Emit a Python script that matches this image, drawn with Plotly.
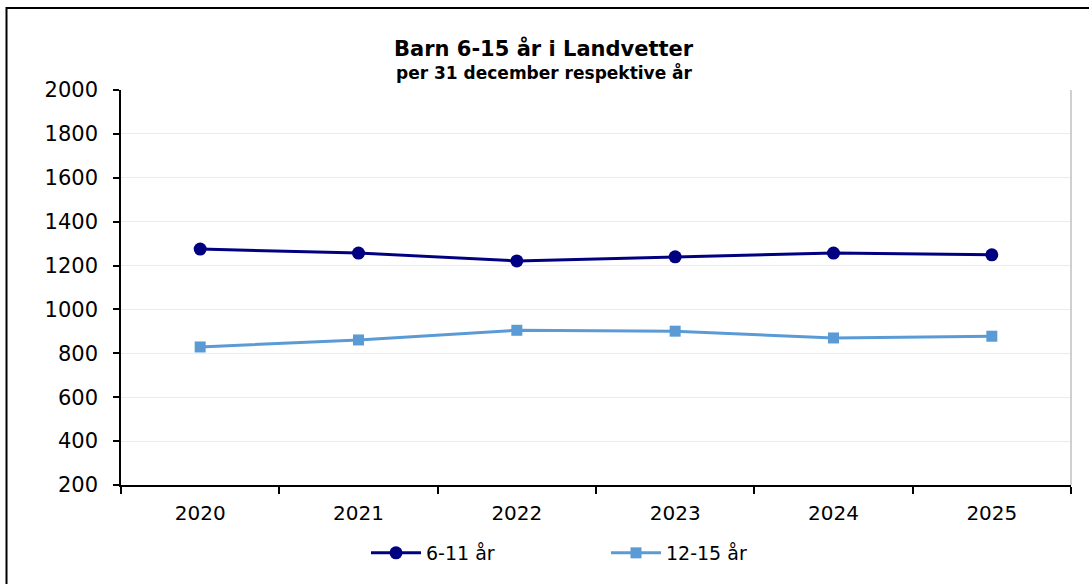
import plotly.graph_objects as go

years = ["2020", "2021", "2022", "2023", "2024", "2025"]
age_6_11 = [1275, 1257, 1221, 1240, 1257, 1249]
age_12_15 = [829, 861, 905, 901, 870, 878]
series_names = ["6-11 år", "12-15 år"]
title_text = "Barn 6-15 år i Landvetter"
subtitle_text = "per 31 december respektive år"

W, H = 1089, 584
ML, MR, MT, MB = 121, 18, 90, 99
pw = W - ML - MR
ph = H - MT - MB

def px_x(p):
    return (p - ML) / pw

def px_y(p):
    return (H - MB - p) / ph

FONT = "DejaVu Sans"

fig = go.Figure()
fig.add_trace(go.Scatter(
    x=years, y=age_6_11, name=series_names[0], mode="lines+markers",
    line=dict(color="#000080", width=3),
    marker=dict(symbol="circle", size=13, color="#000080"),
))
fig.add_trace(go.Scatter(
    x=years, y=age_12_15, name=series_names[1], mode="lines+markers",
    line=dict(color="#5B9BD5", width=3),
    marker=dict(symbol="square", size=11, color="#5B9BD5"),
))

fig.update_layout(
    width=W, height=H, autosize=False,
    margin=dict(l=ML, r=MR, t=MT, b=MB),
    paper_bgcolor="white", plot_bgcolor="white",
    font=dict(family=FONT, color="black", size=20),
    showlegend=True,
    legend=dict(orientation="h", x=px_x(366), y=px_y(553), xanchor="left", yanchor="middle",
                font=dict(family=FONT, size=19, color="black"),
                itemwidth=50,
                entrywidth=175, entrywidthmode="pixels", bgcolor="rgba(0,0,0,0)"),
    xaxis=dict(type="category", range=[-0.5, len(years) - 0.5], tickson="boundaries",
               ticks="outside", ticklen=7,
               tickcolor="black", tickwidth=1.5, showline=True, linecolor="black", linewidth=1.5,
               showgrid=False, tickfont=dict(family=FONT, size=20, color="black"),
               ticklabelstandoff=9, fixedrange=True),
    yaxis=dict(range=[200, 2000], dtick=200, tick0=200, ticks="outside", ticklen=6,
               tickcolor="black", tickwidth=1.5, showline=True, linecolor="black", linewidth=1.5,
               showgrid=True, gridcolor="#EBEBEB", gridwidth=1, zeroline=False,
               tickfont=dict(family=FONT, size=21, color="black"),
               ticklabelstandoff=11, fixedrange=True),
    annotations=[
        dict(text="<b>" + title_text + "</b>", xref="paper", yref="paper",
             x=px_x(544), y=px_y(49), xanchor="center", yanchor="middle", showarrow=False,
             font=dict(family=FONT, size=21, color="black")),
        dict(text="<b>" + subtitle_text + "</b>", xref="paper", yref="paper",
             x=px_x(544), y=px_y(72), xanchor="center", yanchor="middle", showarrow=False,
             font=dict(family=FONT, size=17, color="black")),
    ],
    shapes=[
        dict(type="line", xref="paper", yref="paper", x0=1, x1=1, y0=0, y1=1,
             line=dict(color="#C0C0C0", width=1.5)),
        dict(type="rect", xref="paper", yref="paper", x0=px_x(6.5), x1=px_x(1100),
             y0=px_y(600), y1=px_y(8), line=dict(color="black", width=2)),
    ],
)

fig.write_html("out.html",
               config={"responsive": False, "displayModeBar": False},
               post_script="document.body.style.margin='0px';document.body.style.overflow='hidden';")
